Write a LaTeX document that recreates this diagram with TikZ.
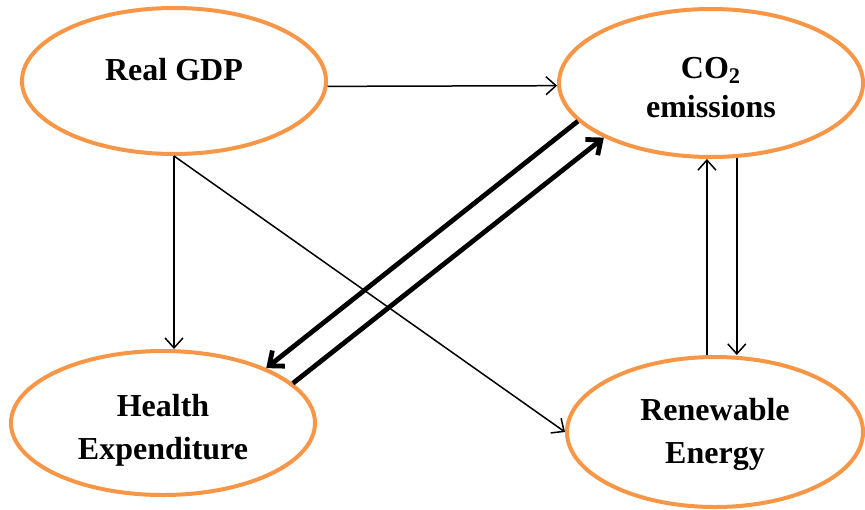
\documentclass[tikz,border=0pt]{standalone}
\usepackage{fontspec}
\setmainfont{Liberation Serif}
\usetikzlibrary{arrows.meta, shapes.geometric}
\definecolor{varOrange}{HTML}{F79646}
\tikzset{
  varnode/.style={ellipse, draw=varOrange, line width=2pt, inner sep=0pt,
    font=\fontsize{16}{21.5}\selectfont\bfseries, align=center},
  thinarrow/.style={-{Straight Barb[length=5pt,width=9pt]}, line width=0.75pt},
  thickarrow/.style={-{Straight Barb[length=6pt,width=10pt]}, line width=2.4pt},
}
\begin{document}
\begin{tikzpicture}[x=0.5pt, y=-0.5pt]
\useasboundingbox (0,0) rectangle (865,509);
% variables
\node[varnode, minimum width=152pt, minimum height=73pt,
      text height=11pt, text depth=12pt] (gdp) at (174,81) {Real GDP};
\node[varnode, minimum width=152pt, minimum height=74pt, text height=34.5pt,
      font=\fontsize{16}{19.5}\selectfont\bfseries] (co2) at (711,83)
  {CO\textsubscript{2}\\emissions};
\node[varnode, minimum width=152pt, minimum height=72pt, text height=39.5pt]
  (health) at (163,423) {Health\\Expenditure};
\node[varnode, minimum width=148pt, minimum height=75pt, text height=35.5pt]
  (ren) at (715,432) {Renewable\\Energy};
% links
\draw[thinarrow] (gdp.-2) -- (co2.181);
\draw[thinarrow] (gdp.south) -- (gdp.south |- health.north);
\draw[thinarrow] (gdp.south) -- (ren.west);
\draw[thinarrow] (ren.96) -- (ren.96 |- co2.south);
\draw[thinarrow] (co2.289) -- (co2.289 |- ren.north);
% two-way link CO2 / health
\draw[thickarrow] (co2.196) -- (health.28);
\draw[thickarrow] (health.17) -- (co2.207);
\end{tikzpicture}
\end{document}
